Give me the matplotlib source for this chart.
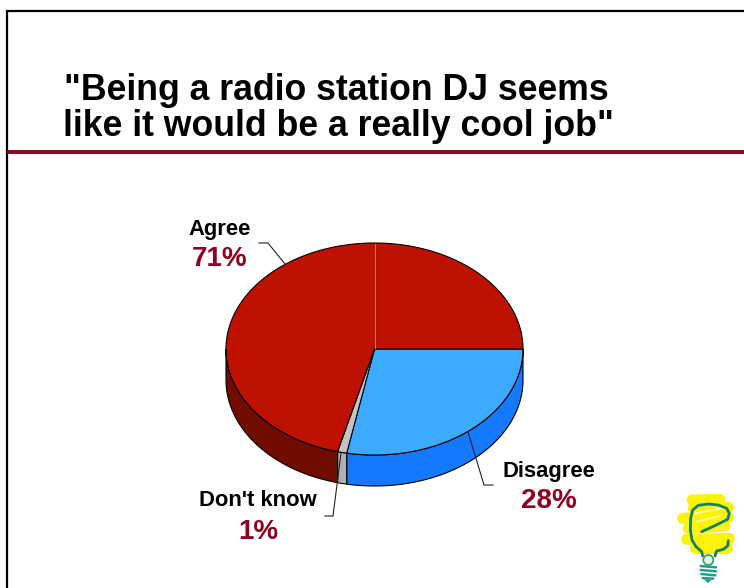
import numpy as np
import matplotlib
matplotlib.use('Agg')
import matplotlib.pyplot as plt
from matplotlib.patches import Polygon, Circle

plt.rcParams['font.family'] = ['Liberation Sans', 'DejaVu Sans']

categories = ['Disagree', "Don't know", 'Agree']
values = [28, 1, 71]
top_colors = ['#3BAAFF', '#C4C4C4', '#BE1100']
side_colors = ['#1479FF', '#B0B0B0', '#730C00']

TITLE_LINES = ['"Being a radio station DJ seems', 'like it would be a really cool job"']
MAROON = '#8F0022'

# pie geometry in pixels
cx, cy = 374.5, 349
rx, ry = 148.5, 106
depth = 31


def arc(a0, a1, dy=0):
    t = np.radians(np.linspace(a0, a1, 200))
    return np.column_stack([cx + rx * np.cos(t), cy + dy + ry * np.sin(t)])


def draw_pie(ax):
    angles = np.concatenate([[0], np.cumsum(values) / sum(values) * 360])
    # sides first, only the part facing us
    for i in range(len(values)):
        a0, a1 = angles[i], min(angles[i + 1], 180)
        if a0 >= 180:
            continue
        pts = np.vstack([arc(a0, a1), arc(a0, a1, depth)[::-1]])
        ax.add_patch(Polygon(pts, closed=True, fc=side_colors[i], ec='black', lw=0.8, zorder=2))
    for i in range(len(values)):
        pts = np.vstack([[cx, cy], arc(angles[i], angles[i + 1])])
        ax.add_patch(Polygon(pts, closed=True, fc=top_colors[i], ec='black', lw=0.8, zorder=3))
    # seam at 12 o'clock
    ax.plot([cx, cx], [cy - ry + 1, cy - 1], color='#D8705F', lw=0.7, zorder=4)


def bulb_xy(pts):
    pts = np.array(pts, dtype=float)
    return 660 + pts[:, 0] / 3, 480 + pts[:, 1] / 3


def draw_bulb(ax):
    strokes = [[(97, 60), (180, 58)], [(100, 85), (205, 82)], [(68, 115), (205, 112)],
               [(85, 145), (195, 138)], [(80, 178), (208, 175)], [(105, 203), (200, 203)]]
    for s in strokes:
        x, y = bulb_xy(s)
        ax.plot(x, y, color='#FDF20A', lw=8, solid_capstyle='round', zorder=5)
    for s in [[(105, 100), (185, 85)], [(110, 125), (180, 108)]]:
        x, y = bulb_xy(s)
        ax.plot(x, y, color='#FFFBB0', lw=1.2, zorder=6)
    body = [(125, 155), (165, 137), (203, 118), (208, 100), (200, 85), (175, 75), (145, 72), (115, 76),
            (98, 90), (92, 115), (91, 150), (96, 180), (108, 200), (125, 215), (128, 228)]
    x, y = bulb_xy(body)
    ax.plot(x, y, color='#14806A', lw=2, solid_capstyle='round', solid_joinstyle='round', zorder=7)
    tail = [(205, 182), (203, 198), (190, 208), (170, 213), (165, 228)]
    x, y = bulb_xy(tail)
    ax.plot(x, y, color='#14806A', lw=2, solid_capstyle='round', solid_joinstyle='round', zorder=7)
    x, y = bulb_xy([(145, 240)])
    ax.add_patch(Circle((x[0], y[0]), 5, fc='#E8F5E0', ec='#1FA08A', lw=1.2, zorder=7))
    for s in [[(122, 258), (168, 262)], [(122, 270), (168, 274)], [(124, 282), (166, 286)], [(128, 294), (160, 296)]]:
        x, y = bulb_xy(s)
        ax.plot(x, y, color='#1FA08A', lw=1.8, solid_capstyle='round', zorder=7)
    x, y = bulb_xy([(132, 298), (155, 298), (144, 310)])
    ax.add_patch(Polygon(np.column_stack([x, y]), closed=True, fc='#1FA08A', ec='none', zorder=7))


fig = plt.figure(figsize=(7.44, 5.88), dpi=100)
ax = fig.add_axes([0, 0, 1, 1])
ax.set_xlim(0, 744)
ax.set_ylim(588, 0)
ax.axis('off')

# slide frame and rule
ax.plot([7, 7, 744], [588, 10.5, 10.5], color='black', lw=1.6, solid_joinstyle='miter')
ax.plot([7, 744], [151.5, 151.5], color=MAROON, lw=2.8, solid_capstyle='butt')

ax.text(64, 91, TITLE_LINES[0], fontsize=25.65, fontweight='bold', color='black', ha='left', va='center')
ax.text(63, 127, TITLE_LINES[1], fontsize=25.65, fontweight='bold', color='black', ha='left', va='center')

draw_pie(ax)

# leader lines
ax.plot([259, 268, 285], [243, 243, 264], color='#222222', lw=0.8, zorder=8)
ax.plot([468, 484, 493], [432, 485, 485], color='#222222', lw=0.8, zorder=8)
ax.plot([341, 333, 325], [453, 516, 516], color='#222222', lw=0.8, zorder=8)

label_pos = [(549, 471, 501), (258, 501, 532), (220, 229, 259)]
for name, v, (x, y1, y2) in zip(categories, values, label_pos):
    ax.text(x, y1, name, fontsize=15.8, fontweight='bold', color='black', ha='center', va='center')
    ax.text(x, y2, f'{v}%', fontsize=20, fontweight='bold', color=MAROON, ha='center', va='center')

draw_bulb(ax)

fig.savefig('out.png', dpi=100)
